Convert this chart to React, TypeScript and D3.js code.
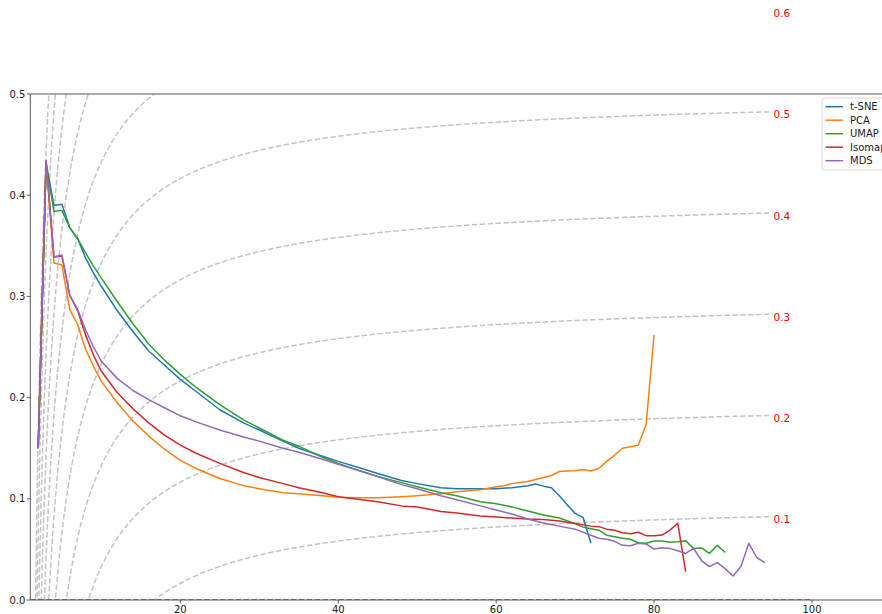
import React from 'react';
import * as d3 from 'd3';

// ---- Data ----
const tsneX = [2,3,4,5,6,7,8,9,10,12,14,16,18,20,22,25,28,30,33,35,38,40,43,45,48,50,53,55,58,60,62,64,65,66,67,68,69,70,71,72];
const tsneY = [0.15,0.432,0.390,0.391,0.368,0.357,0.338,0.323,0.310,0.286,0.265,0.246,0.232,0.218,0.206,0.188,0.175,0.168,0.157,0.150,0.142,0.137,0.130,0.125,0.118,0.115,0.111,0.110,0.110,0.110,0.111,0.113,0.1146,0.1125,0.111,0.103,0.094,0.0856,0.0817,0.056];

const pcaX = [2,3,4,5,6,7,8,9,10,12,14,16,18,20,22,25,28,30,33,35,38,40,43,45,48,50,53,55,58,60,61,62,64,66,67,68,69,70,71,72,73,74,75,76,77,78,79,80];
const pcaY = [0.15,0.432,0.333,0.331,0.287,0.272,0.248,0.231,0.216,0.195,0.177,0.162,0.149,0.138,0.130,0.120,0.113,0.110,0.106,0.105,0.103,0.1015,0.101,0.101,0.102,0.103,0.105,0.107,0.109,0.112,0.113,0.115,0.117,0.121,0.123,0.127,0.1275,0.1278,0.129,0.1275,0.130,0.137,0.143,0.150,0.1515,0.153,0.174,0.262];

const umapX = [2,3,4,5,6,7,8,9,10,12,14,16,18,20,22,25,28,30,33,35,38,40,43,45,48,50,53,55,58,60,62,64,66,68,70,71,72,73,74,75,76,77,78,79,80,81,82,83,84,85,86,87,88,89];
const umapY = [0.15,0.43,0.384,0.385,0.368,0.357,0.343,0.330,0.318,0.295,0.273,0.253,0.237,0.223,0.210,0.193,0.178,0.170,0.158,0.152,0.141,0.135,0.127,0.122,0.116,0.112,0.106,0.103,0.097,0.095,0.092,0.088,0.084,0.081,0.0755,0.072,0.0705,0.069,0.064,0.0626,0.061,0.060,0.0566,0.056,0.0583,0.0583,0.057,0.0576,0.0586,0.051,0.0514,0.046,0.054,0.047];

const isoX = [2,3,4,5,6,7,8,9,10,12,14,16,18,20,22,25,28,30,33,35,38,40,43,45,48,50,53,55,58,60,62,64,66,68,70,72,73,74,75,76,77,78,79,80,81,82,83,84];
const isoY = [0.15,0.434,0.339,0.340,0.301,0.286,0.262,0.242,0.226,0.205,0.189,0.175,0.163,0.153,0.145,0.135,0.126,0.121,0.115,0.111,0.106,0.102,0.099,0.097,0.093,0.092,0.0875,0.086,0.083,0.082,0.081,0.080,0.0795,0.078,0.0755,0.073,0.0725,0.070,0.069,0.0665,0.0655,0.067,0.0636,0.0636,0.0642,0.069,0.0758,0.028];

const mdsX = [2,3,4,5,6,7,8,9,10,12,14,16,18,20,22,25,28,30,33,35,38,40,43,45,48,50,53,55,58,60,62,64,66,68,70,72,73,74,75,76,77,78,79,80,81,82,83,84,85,86,87,88,89,90,91,92,93,94];
const mdsY = [0.15,0.434,0.339,0.341,0.301,0.287,0.267,0.250,0.236,0.219,0.207,0.198,0.190,0.182,0.176,0.168,0.161,0.157,0.150,0.146,0.139,0.134,0.127,0.122,0.114,0.110,0.103,0.099,0.093,0.089,0.085,0.080,0.076,0.073,0.070,0.064,0.061,0.060,0.058,0.054,0.0537,0.056,0.0553,0.0504,0.0517,0.051,0.0487,0.046,0.051,0.039,0.033,0.037,0.031,0.0237,0.033,0.056,0.042,0.037];

const seriesNames = ['t-SNE', 'PCA', 'UMAP', 'Isomap', 'MDS'];
const seriesColors = ['#1f77b4', '#ff7f0e', '#2ca02c', '#d62728', '#9467bd'];
const seriesXs = [tsneX, pcaX, umapX, isoX, mdsX];
const seriesYs = [tsneY, pcaY, umapY, isoY, mdsY];

// guide curves y = c - K / x
const levels = [0.0, 0.1, 0.2, 0.3, 0.4, 0.5, 0.6, 0.7, 0.8, 0.9, 1.0];
const K = 1.67;
const guideStart = 1;
const guideEnd = 95;

const xTicks = [20, 40, 60, 80, 100, 120];
const yTicks = [0.0, 0.1, 0.2, 0.3, 0.4, 0.5];

const W = 882;
const H = 614;
const PL = 30.3;
const PT = 94;
const PB = 600;

export default function App() {
  const x = d3.scaleLinear().domain([1, 110]).range([PL, PL + 109 * 7.896]);
  const y = d3.scaleLinear().domain([0, 0.5]).range([PB, PT]);
  const line = d3.line<[number, number]>().x(d => x(d[0])).y(d => y(d[1]));

  const guideXs = d3.range(guideStart, guideEnd + 0.0001, 0.02);
  const font = 'DejaVu Sans, sans-serif';

  // only labels whose position falls inside the picture are drawn
  const visibleLabels = levels.filter(c => {
    const py = y(c - K / guideEnd) + 6.6;
    return py > 10 && py < H - 2;
  });

  return (
    <svg width={W} height={H} style={{ position: 'absolute', left: 0, top: 0, background: '#fff' }}
      fontFamily={font}>
      <defs>
        <clipPath id="plot">
          <rect x={PL} y={PT} width={W - PL + 20} height={PB - PT} />
        </clipPath>
      </defs>
      <rect x={0} y={0} width={W} height={H} fill="#fff" />
      <g clipPath="url(#plot)">
        {levels.map(c => (
          <path key={'g' + c}
            d={line(guideXs.map(v => [v, c - K / v] as [number, number])) || ''}
            fill="none" stroke="#c4c4c4" strokeWidth={1.5} strokeDasharray="5.5,2.4" />
        ))}
        {seriesNames.map((n, i) => (
          <path key={n}
            d={line(seriesXs[i].map((v, j) => [v, seriesYs[i][j]] as [number, number])) || ''}
            fill="none" stroke={seriesColors[i]} strokeWidth={1.5} strokeLinejoin="round" />
        ))}
        <path d={line([[1, 0], [100, 0]]) || ''} fill="none" stroke="red" strokeWidth={1.5}
          strokeDasharray="5.5,2.4" />
      </g>
      {visibleLabels.map(c => {
        const yv = c - K / guideEnd;
        return (
          <text key={'l' + c} x={x(guideEnd) + 1} y={y(yv) + 6.6} fill="red" fontSize={10.5}>
            {c.toFixed(1)}
          </text>
        );
      })}
      {/* spines */}
      <line x1={PL} x2={W} y1={PT} y2={PT} stroke="#555" strokeWidth={1} />
      <line x1={PL} x2={W} y1={PB} y2={PB} stroke="#555" strokeWidth={1} />
      <line x1={PL} x2={PL} y1={PT} y2={PB} stroke="#555" strokeWidth={1} />
      {xTicks.filter(t => x(t) < W - 10).map(t => (
        <g key={'xt' + t}>
          <line x1={x(t)} x2={x(t)} y1={PB} y2={PB + 3.5} stroke="#333" strokeWidth={0.8} />
          <text x={x(t)} y={PB + 12.5} textAnchor="middle" fontSize={10} fill="#222">{t}</text>
        </g>
      ))}
      {yTicks.map(t => (
        <g key={'yt' + t}>
          <line x1={PL - 3.5} x2={PL} y1={y(t)} y2={y(t)} stroke="#333" strokeWidth={0.8} />
          <text x={PL - 5} y={y(t)} textAnchor="end" dominantBaseline="central" fontSize={10} fill="#222">
            {t.toFixed(1)}
          </text>
        </g>
      ))}
      {/* legend */}
      <g>
        <rect x={822} y={98} width={80} height={72} rx={2.5} fill="#fff" fillOpacity={0.8}
          stroke="#d0d0d0" strokeWidth={0.8} />
        {seriesNames.map((n, i) => (
          <g key={'lg' + n}>
            <line x1={825.5} x2={843} y1={106.7 + i * 13.5} y2={106.7 + i * 13.5}
              stroke={seriesColors[i]} strokeWidth={1.5} />
            <text x={850} y={106.7 + i * 13.5} dominantBaseline="central" fontSize={10} fill="#222">{n}</text>
          </g>
        ))}
      </g>
    </svg>
  );
}
